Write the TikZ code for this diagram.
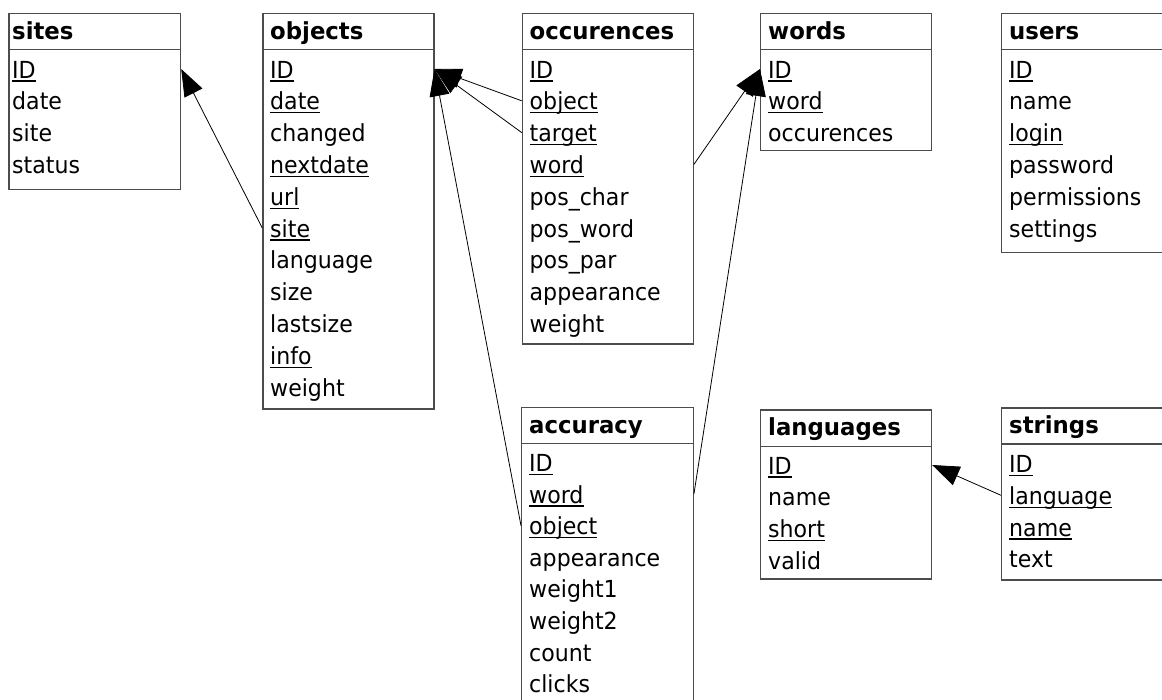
\documentclass[tikz,border=0pt]{standalone}
\usepackage{fontspec}
\setmainfont{DejaVu Sans}[FakeStretch=0.94]
\newfontfamily\headfont{DejaVu Sans}[FakeStretch=0.97]
\usetikzlibrary{arrows.meta}

% underlined key field
\newcommand\key[1]{\leavevmode\setbox0\hbox{#1}\rlap{\rule[-3.6pt]{\wd0}{1.3pt}}\box0}

\tikzset{
  tablebox/.style={draw=black!70, line width=1.2pt, inner sep=0pt, anchor=north west},
  headline/.style={draw=black!70, line width=1.2pt},
  head/.style={anchor=base west, inner sep=0pt, font=\headfont\bfseries},
  field/.style={anchor=base west, inner sep=0pt, text height=18pt, text depth=0pt},
  fk/.style={-{Triangle[length=27pt,width=20pt]}, line width=0.8pt},
}

\begin{document}
\fontsize{23.5}{28}\selectfont
\begin{tikzpicture}[x=1pt,y=-1pt]
  \clip (0,0) rectangle (1162,699);

  % sites
  \node[tablebox, minimum width=171.7pt, minimum height=176.3pt] (sites) at (8.3,12.7) {};
  \draw[headline] ([yshift=-36.5pt]sites.north west) -- ([yshift=-36.5pt]sites.north east);
  \node[head] (sites-title) at (12,39) {sites};
  \foreach \f [count=\i] in {\key{ID},date,site,status}
    \node[field] (sites-\i) at (12,{78+(\i-1)*31.8}) {\f};

  % objects
  \node[tablebox, minimum width=171pt, minimum height=395.6pt] (objects) at (262.3,12.7) {};
  \draw[headline] ([yshift=-36.5pt]objects.north west) -- ([yshift=-36.5pt]objects.north east);
  \node[head] (objects-title) at (270,39) {objects};
  \foreach \f [count=\i] in {\key{ID},\key{date},changed,\key{nextdate},\key{url},\key{site},language,size,lastsize,\key{info},weight}
    \node[field] (objects-\i) at (270,{78+(\i-1)*31.8}) {\f};

  % occurences
  \node[tablebox, minimum width=171pt, minimum height=330.6pt] (occurences) at (521.7,12.7) {};
  \draw[headline] ([yshift=-36.5pt]occurences.north west) -- ([yshift=-36.5pt]occurences.north east);
  \node[head] (occurences-title) at (529.5,39) {occurences};
  \foreach \f [count=\i] in {\key{ID},\key{object},\key{target},\key{word},pos\_char,pos\_word,pos\_par,appearance,weight}
    \node[field] (occurences-\i) at (529.5,{78+(\i-1)*31.8}) {\f};

  % words
  \node[tablebox, minimum width=170.7pt, minimum height=137.3pt] (words) at (760,12.7) {};
  \draw[headline] ([yshift=-36.5pt]words.north west) -- ([yshift=-36.5pt]words.north east);
  \node[head] (words-title) at (768,39) {words};
  \foreach \f [count=\i] in {\key{ID},\key{word},occurences}
    \node[field] (words-\i) at (768,{78+(\i-1)*31.8}) {\f};

  % users
  \node[tablebox, minimum width=200pt, minimum height=239pt] (users) at (1001,12.7) {};
  \draw[headline] ([yshift=-36.5pt]users.north west) -- ([yshift=-36.5pt]users.north east);
  \node[head] (users-title) at (1009,39) {users};
  \foreach \f [count=\i] in {\key{ID},name,\key{login},password,permissions,settings}
    \node[field] (users-\i) at (1009,{78+(\i-1)*31.8}) {\f};

  % accuracy
  \node[tablebox, minimum width=171.7pt, minimum height=330pt] (accuracy) at (521,406.7) {};
  \draw[headline] ([yshift=-36.5pt]accuracy.north west) -- ([yshift=-36.5pt]accuracy.north east);
  \node[head] (accuracy-title) at (529,433) {accuracy};
  \foreach \f [count=\i] in {\key{ID},\key{word},\key{object},appearance,weight1,weight2,count,clicks}
    \node[field] (accuracy-\i) at (529,{471.5+(\i-1)*31.6}) {\f};

  % languages
  \node[tablebox, minimum width=171pt, minimum height=169pt] (languages) at (760,409.3) {};
  \draw[headline] ([yshift=-37.5pt]languages.north west) -- ([yshift=-37.5pt]languages.north east);
  \node[head] (languages-title) at (768,435.5) {languages};
  \foreach \f [count=\i] in {\key{ID},name,\key{short},valid}
    \node[field] (languages-\i) at (768,{474+(\i-1)*31.8}) {\f};

  % strings
  \node[tablebox, minimum width=200pt, minimum height=172pt] (strings) at (1001,407.3) {};
  \draw[headline] ([yshift=-36.7pt]strings.north west) -- ([yshift=-36.7pt]strings.north east);
  \node[head] (strings-title) at (1009,433.5) {strings};
  \foreach \f [count=\i] in {\key{ID},\key{language},\key{name},text}
    \node[field] (strings-\i) at (1009,{472.5+(\i-1)*31.8}) {\f};

  % foreign keys
  \draw[fk] (objects-6 -| objects.west) -- (sites-1 -| sites.east);
  \draw[fk] (occurences-2 -| occurences.west) -- (objects-1 -| objects.east);
  \draw[fk] (occurences-3 -| occurences.west) -- (objects-1 -| objects.east);
  \draw[fk] (accuracy-3 -| accuracy.west) -- (objects-1 -| objects.east);
  \draw[fk] (occurences-4 -| occurences.east) -- (words-1 -| words.west);
  \draw[fk] (accuracy-2 -| accuracy.east) -- (words-1 -| words.west);
  \draw[fk] (strings-2 -| strings.west) -- (languages-1 -| languages.east);
\end{tikzpicture}
\end{document}
